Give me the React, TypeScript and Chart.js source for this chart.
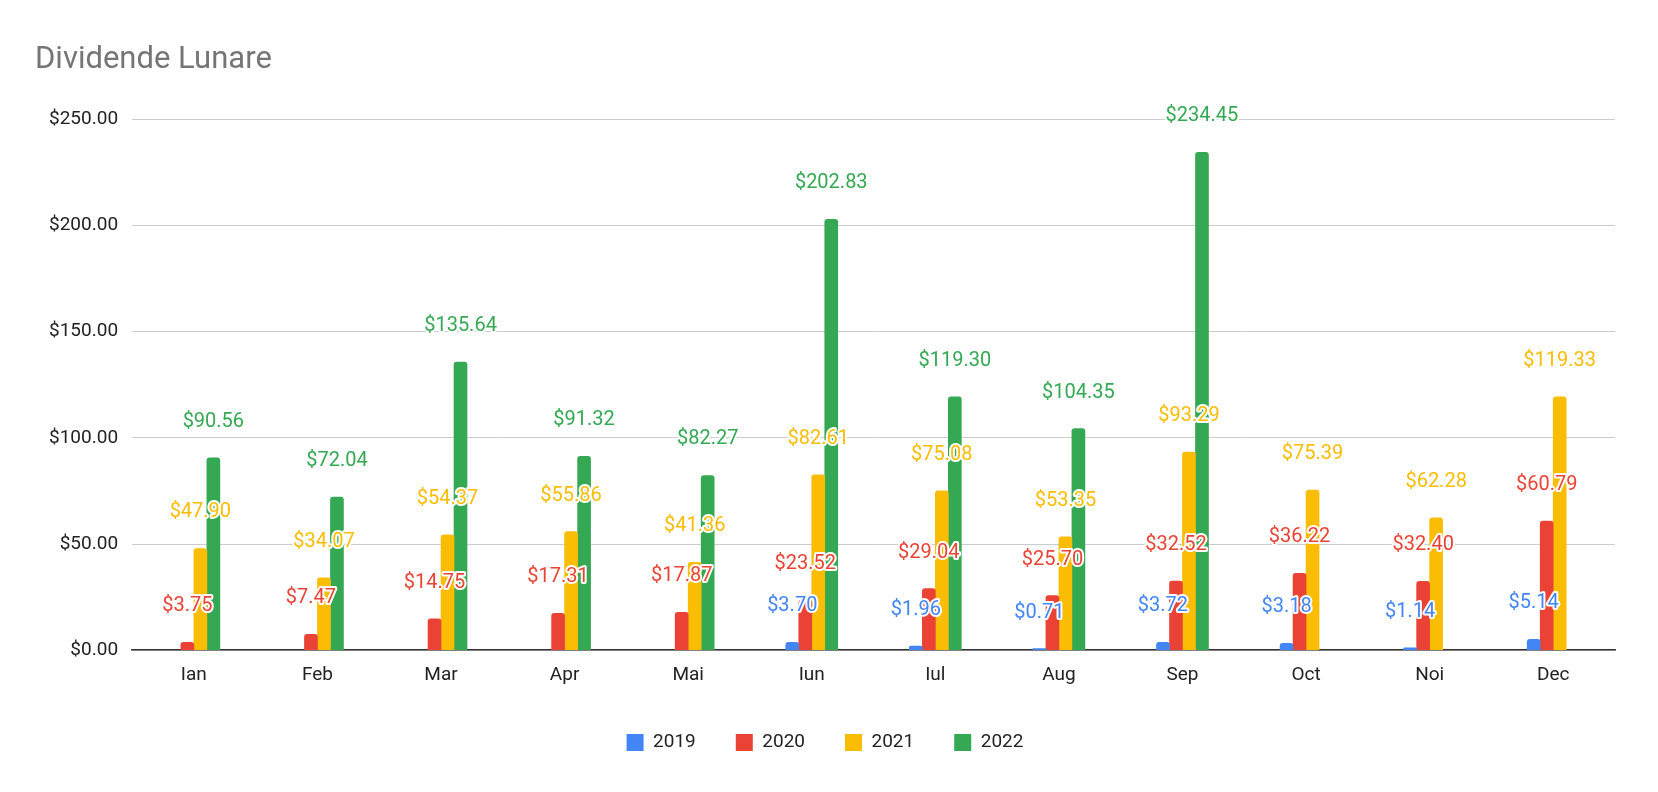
import React, { useEffect, useRef } from "react";
import { Chart, registerables } from "chart.js";
Chart.register(...registerables);

const months = ["Ian","Feb","Mar","Apr","Mai","Iun","Iul","Aug","Sep","Oct","Noi","Dec"];
const s2019 = [null,null,null,null,null,3.70,1.96,0.71,3.72,3.18,1.14,5.14];
const s2020 = [3.75,7.47,14.75,17.31,17.87,23.52,29.04,25.70,32.52,36.22,32.40,60.79];
const s2021 = [47.90,34.07,54.37,55.86,41.36,82.61,75.08,53.35,93.29,75.39,62.28,119.33];
const s2022 = [90.56,72.04,135.64,91.32,82.27,202.83,119.30,104.35,234.45,null,null,null];
const colors = ["#4285F4","#EA4335","#FBBC04","#34A853"];
const years = ["2019","2020","2021","2022"];

const labelPlugin = {
  id: "vlabels",
  afterDatasetsDraw(chart: any) {
    const ctx = chart.ctx;
    ctx.save();
    ctx.font = "20px Roboto";
    ctx.textAlign = "center";
    ctx.textBaseline = "middle";
    ctx.lineJoin = "round";
    chart.data.datasets.forEach((ds: any, i: number) => {
      const meta = chart.getDatasetMeta(i);
      meta.data.forEach((bar: any, j: number) => {
        const v = ds.data[j];
        if (v == null) return;
        const t = "$" + v.toFixed(2);
        const y = bar.y - 36;
        ctx.strokeStyle = "#fff";
        ctx.lineWidth = 4;
        ctx.strokeText(t, bar.x, y);
        ctx.fillStyle = colors[i];
        ctx.fillText(t, bar.x, y);
      });
    });
    ctx.restore();
  },
};

export default function App() {
  const ref = useRef<HTMLCanvasElement>(null);
  useEffect(() => {
    const series = [s2019, s2020, s2021, s2022];
    const chart = new Chart(ref.current!, {
      type: "bar",
      data: {
        labels: months,
        datasets: series.map((d, i) => ({
          label: years[i],
          data: d as any,
          backgroundColor: colors[i],
          barThickness: 13,
          categoryPercentage: 0.653,
          borderRadius: { topLeft: 3, topRight: 3 },
          borderSkipped: "bottom",
        })),
      },
      options: {
        animation: false,
        responsive: false,
        layout: { padding: { left: 35, right: 43, top: 10, bottom: 30 } },
        plugins: {
          tooltip: { enabled: false },
          title: {
            display: true, text: "Dividende Lunare", align: "start",
            color: "#757575", font: { family: "Roboto", size: 31, weight: "normal" },
            padding: { top: 32, bottom: 40 },
          },
          legend: {
            position: "bottom",
            labels: {
              boxWidth: 17, boxHeight: 17, padding: 40, color: "#222",
              font: { family: "Roboto", size: 19 },
            },
          },
        },
        scales: {
          x: {
            grid: { display: false },
            border: { color: "#333", width: 1.5 },
            ticks: { color: "#222", font: { family: "Roboto", size: 19 }, padding: 6 },
          },
          y: {
            min: 0, max: 250,
            border: { display: false },
            grid: { color: "#ccc", drawTicks: false },
            ticks: {
              stepSize: 50, padding: 14, color: "#222",
              font: { family: "Roboto", size: 19 },
              callback: (v: any) => "$" + Number(v).toFixed(2),
            },
          },
        },
      },
      plugins: [labelPlugin],
    });
    return () => chart.destroy();
  }, []);
  return (
    <div style={{ position: "fixed", left: 0, top: 0, width: 1658, height: 792, background: "#fff" }}>
      <canvas ref={ref} width={1658} height={792} />
    </div>
  );
}
